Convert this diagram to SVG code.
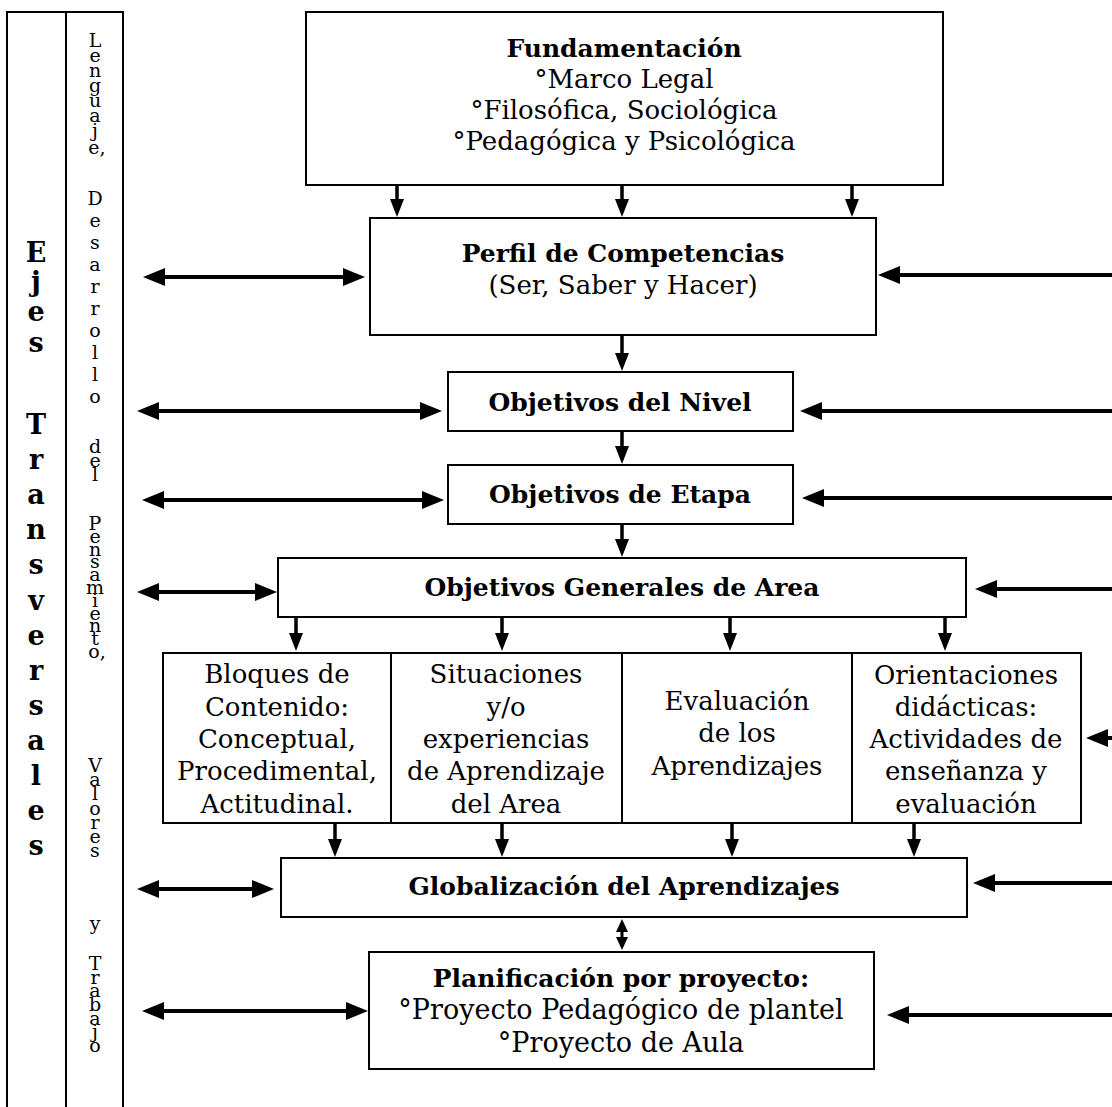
<svg xmlns="http://www.w3.org/2000/svg" width="1112" height="1107" viewBox="0 0 1112 1107">
<style>
.box{fill:#fff;stroke:#000;stroke-width:2}
.col{fill:none;stroke:#000;stroke-width:2}
text{font-family:"DejaVu Serif","Liberation Serif",serif;fill:#000;text-anchor:middle}
.r{font-size:26px}
.b{font-size:25px;font-weight:bold}
.big{font-size:27px;font-weight:bold}
.sm{font-size:19px}
.h{stroke:#000;stroke-width:4;fill:none;marker-end:url(#ah)}
.hd{stroke:#000;stroke-width:4;fill:none;marker-start:url(#ah);marker-end:url(#ah)}
.v{stroke:#000;stroke-width:3.5;fill:none;marker-end:url(#ad)}
.vd{stroke:#000;stroke-width:3;fill:none;marker-start:url(#as);marker-end:url(#as)}
</style>
<defs>
<marker id="ah" markerUnits="userSpaceOnUse" markerWidth="22" markerHeight="18" refX="12" refY="9" orient="auto-start-reverse"><path d="M0,0 L22,9 L0,18 Z" fill="#000"/></marker>
<marker id="ad" markerUnits="userSpaceOnUse" markerWidth="18" markerHeight="14" refX="10" refY="7" orient="auto-start-reverse"><path d="M0,0 L18,7 L0,14 Z" fill="#000"/></marker>
<marker id="as" markerUnits="userSpaceOnUse" markerWidth="13" markerHeight="12" refX="7" refY="6" orient="auto-start-reverse"><path d="M0,0 L13,6 L0,12 Z" fill="#000"/></marker>
</defs>

<g id="ejes">
<path class="col" d="M7,1110 V12 H123 V1110 M66,12 V1110"/>
<text class="big"><tspan x="36" y="262">E</tspan><tspan x="36" y="291">j</tspan><tspan x="36" y="321">e</tspan><tspan x="36" y="352">s</tspan><tspan x="36" y="434">T</tspan><tspan x="36" y="469">r</tspan><tspan x="36" y="504">a</tspan><tspan x="36" y="539">n</tspan><tspan x="36" y="574">s</tspan><tspan x="36" y="610">v</tspan><tspan x="36" y="645">e</tspan><tspan x="36" y="680">r</tspan><tspan x="36" y="715">s</tspan><tspan x="36" y="750">a</tspan><tspan x="36" y="785">l</tspan><tspan x="36" y="820">e</tspan><tspan x="36" y="855">s</tspan></text>
</g>

<g id="lenguaje">
<text class="sm"><tspan x="95" y="47">L</tspan><tspan x="95" y="62">e</tspan><tspan x="95" y="77">n</tspan><tspan x="95" y="92">g</tspan><tspan x="95" y="107">u</tspan><tspan x="95" y="122">a</tspan><tspan x="95" y="137">j</tspan><tspan x="97" y="154">e,</tspan><tspan x="95" y="205">D</tspan><tspan x="95" y="227">e</tspan><tspan x="95" y="249">s</tspan><tspan x="95" y="271">a</tspan><tspan x="95" y="293">r</tspan><tspan x="95" y="315">r</tspan><tspan x="95" y="337">o</tspan><tspan x="95" y="359">l</tspan><tspan x="95" y="381">l</tspan><tspan x="95" y="403">o</tspan><tspan x="95" y="453">d</tspan><tspan x="95" y="467">e</tspan><tspan x="95" y="481">l</tspan><tspan x="95" y="530">P</tspan><tspan x="95" y="543">e</tspan><tspan x="95" y="556">n</tspan><tspan x="95" y="568">s</tspan><tspan x="95" y="581">a</tspan><tspan x="95" y="594">m</tspan><tspan x="95" y="607">i</tspan><tspan x="95" y="620">e</tspan><tspan x="95" y="632">n</tspan><tspan x="95" y="645">t</tspan><tspan x="97" y="658">o,</tspan><tspan x="95" y="772">V</tspan><tspan x="95" y="786">a</tspan><tspan x="95" y="800">l</tspan><tspan x="95" y="815">o</tspan><tspan x="95" y="829">r</tspan><tspan x="95" y="843">e</tspan><tspan x="95" y="857">s</tspan><tspan x="95" y="930">y</tspan><tspan x="95" y="970">T</tspan><tspan x="95" y="984">r</tspan><tspan x="95" y="997">a</tspan><tspan x="95" y="1011">b</tspan><tspan x="95" y="1025">a</tspan><tspan x="95" y="1038">j</tspan><tspan x="95" y="1052">o</tspan></text>
</g>

<g id="fundamentacion">
<rect class="box" x="306" y="12" width="637" height="173"/>
<text class="b" x="624" y="57">Fundamentación</text>
<text class="r" x="624" y="88">°Marco Legal</text>
<text class="r" x="624" y="119">°Filosófica, Sociológica</text>
<text class="r" x="624" y="150">°Pedagógica y Psicológica</text>
</g>

<g id="perfil">
<rect class="box" x="370" y="218" width="506" height="117"/>
<text class="b" x="623" y="262">Perfil de Competencias</text>
<text class="r" x="623" y="294">(Ser, Saber y Hacer)</text>
</g>

<g id="nivel">
<rect class="box" x="448" y="372" width="345" height="59"/>
<text class="b" x="620" y="411">Objetivos del Nivel</text>
</g>

<g id="etapa">
<rect class="box" x="448" y="465" width="345" height="59"/>
<text class="b" x="620" y="503">Objetivos de Etapa</text>
</g>

<g id="oga">
<rect class="box" x="278" y="558" width="688" height="59"/>
<text class="b" x="622" y="596">Objetivos Generales de Area</text>
</g>

<g id="bloques">
<rect class="box" x="163" y="653" width="228" height="170"/>
<text class="r" x="277" y="683">Bloques de</text>
<text class="r" x="277" y="716">Contenido:</text>
<text class="r" x="277" y="748">Conceptual,</text>
<text class="r" x="277" y="780">Procedimental,</text>
<text class="r" x="277" y="813">Actitudinal.</text>
</g>

<g id="situaciones">
<rect class="box" x="391" y="653" width="231" height="170"/>
<text class="r" x="506" y="683">Situaciones</text>
<text class="r" x="506" y="716">y/o</text>
<text class="r" x="506" y="748">experiencias</text>
<text class="r" x="506" y="780">de Aprendizaje</text>
<text class="r" x="506" y="813">del Area</text>
</g>

<g id="evaluacion">
<rect class="box" x="622" y="653" width="230" height="170"/>
<text class="r" x="737" y="710">Evaluación</text>
<text class="r" x="737" y="742">de los</text>
<text class="r" x="737" y="775">Aprendizajes</text>
</g>

<g id="orientaciones">
<rect class="box" x="852" y="653" width="229" height="170"/>
<text class="r" x="966" y="684">Orientaciones</text>
<text class="r" x="966" y="716">didácticas:</text>
<text class="r" x="966" y="748">Actividades de</text>
<text class="r" x="966" y="780">enseñanza y</text>
<text class="r" x="966" y="813">evaluación</text>
</g>

<g id="globalizacion">
<rect class="box" x="281" y="858" width="686" height="59"/>
<text class="b" x="624" y="895">Globalización del Aprendizajes</text>
</g>

<g id="planificacion">
<rect class="box" x="369" y="952" width="505" height="117"/>
<text class="b" x="621" y="987">Planificación por proyecto:</text>
<text class="r" x="621" y="1019" style="font-size:27px">°Proyecto Pedagógico de plantel</text>
<text class="r" x="621" y="1052" style="font-size:27px">°Proyecto de Aula</text>
</g>

<g id="connectors">
<path class="v" d="M397,186 V209"/>
<path class="v" d="M622,186 V209"/>
<path class="v" d="M852,186 V209"/>
<path class="v" d="M622,336 V363"/>
<path class="v" d="M622,432 V456"/>
<path class="v" d="M622,525 V549"/>
<path class="v" d="M296,618 V643"/>
<path class="v" d="M502,618 V643"/>
<path class="v" d="M730,618 V643"/>
<path class="v" d="M945,618 V643"/>
<path class="v" d="M335,824 V849"/>
<path class="v" d="M502,824 V849"/>
<path class="v" d="M732,824 V849"/>
<path class="v" d="M914,824 V849"/>
<path class="vd" d="M622,925 V944"/>

<path class="hd" d="M153,277 H355"/>
<path class="h" d="M1118,275 H888"/>
<path class="hd" d="M147,411 H432"/>
<path class="h" d="M1118,411 H810"/>
<path class="hd" d="M152,500 H434"/>
<path class="h" d="M1118,498 H812"/>
<path class="hd" d="M147,592 H267"/>
<path class="h" d="M1118,589 H985"/>
<path class="h" d="M1118,738 H1096"/>
<path class="hd" d="M147,889 H264"/>
<path class="h" d="M1118,883 H983"/>
<path class="hd" d="M152,1011 H358"/>
<path class="h" d="M1118,1015 H897"/>
</g>
</svg>
